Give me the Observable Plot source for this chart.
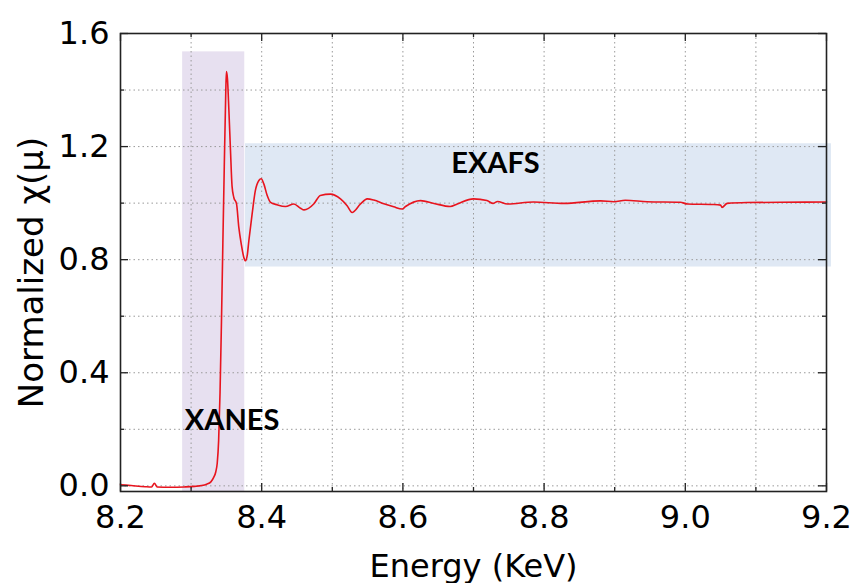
<!DOCTYPE html>
<html>
<head>
<meta charset="utf-8">
<script src="https://cdn.jsdelivr.net/npm/d3@7"></script>
<script src="https://cdn.jsdelivr.net/npm/@observablehq/plot@0.6"></script>
<style>
  html, body { margin: 0; padding: 0; background: #fff; }
</style>
</head>
<body>
<div id="chart"></div>
<script>
// Normalized absorption spectrum around the edge (energy in keV)
const energy = [
  8.200, 8.215, 8.235, 8.244, 8.248, 8.252, 8.270, 8.290, 8.305, 8.315,
  8.322, 8.328, 8.332, 8.335, 8.337, 8.339, 8.341, 8.343, 8.345, 8.347,
  8.349, 8.350, 8.3515, 8.3535, 8.3558, 8.358, 8.3605, 8.3643, 8.3676, 8.371,
  8.3747, 8.377, 8.3795, 8.3818, 8.3865, 8.391, 8.396, 8.3993, 8.403, 8.4078,
  8.4125, 8.422, 8.4337, 8.4455, 8.455, 8.460, 8.474, 8.483, 8.4975, 8.5116,
  8.521, 8.528, 8.540, 8.5494, 8.5588, 8.573, 8.587, 8.599, 8.6037, 8.625,
  8.644, 8.667, 8.677, 8.700, 8.719, 8.728, 8.734, 8.748, 8.785, 8.828,
  8.880, 8.899, 8.915, 8.946, 8.993, 9.003, 9.040, 9.050, 9.052, 9.0593,
  9.0875, 9.135, 9.200
];
const chi = [
  0.004, 0.001, -0.003, -0.004, 0.009, -0.004, -0.005, -0.004, -0.002, 0.001,
  0.006, 0.014, 0.030, 0.050, 0.080, 0.160, 0.330, 0.580, 0.860, 1.130,
  1.380, 1.465, 1.440, 1.330, 1.186, 1.060, 1.020, 0.998, 0.914, 0.856,
  0.808, 0.796, 0.815, 0.867, 0.963, 1.044, 1.080, 1.086, 1.068, 1.027,
  1.003, 0.994, 0.988, 0.997, 0.982, 0.976, 0.998, 1.027, 1.032, 1.015,
  0.991, 0.967, 0.997, 1.015, 1.011, 0.998, 0.987, 0.979, 0.988, 1.009,
  0.999, 0.988, 0.997, 1.015, 1.009, 0.999, 1.006, 0.997, 1.004, 0.999,
  1.008, 1.005, 1.010, 1.005, 1.003, 0.997, 0.995, 0.993, 0.985, 0.999,
  1.002, 1.003, 1.004
];

// Shaded spectral regions
const xanesEnergy = [8.288, 8.376];
const xanesChiTop = 1.535;
const exafsEnergy = [8.377, 9.207];
const exafsChi = [0.774, 1.21];

// Region annotations
const regionNames = ["XANES", "EXAFS"];
const regionNameEnergy = [8.358, 8.731];
const regionNameChi = [0.232, 1.141];

// Axes
const xDomain = [8.2, 9.2];
const yDomain = [-0.02, 1.6];
const xMajor = [8.2, 8.4, 8.6, 8.8, 9.0, 9.2];
const xMinor = [8.3, 8.5, 8.7, 8.9, 9.1];
const yMajor = [0.0, 0.4, 0.8, 1.2, 1.6];
const yMinor = [0.2, 0.6, 1.0, 1.4];
const xGrid = [8.3, 8.4, 8.5, 8.6, 8.7, 8.8, 8.9, 9.0, 9.1];
const yGrid = [0.0, 0.2, 0.4, 0.6, 0.8, 1.0, 1.2, 1.4];
const xTitle = "Energy (KeV)";
const yTitle = "Normalized χ(μ)";

const W = 852, H = 583;
const mL = 120, mR = 26, mT = 33, mB = 92;
const innerW = W - mL - mR, innerH = H - mT - mB;
const majorLen = 8, minorLen = 4;
const ink = "#222";

const spectrum = energy.map((e, i) => ({e, v: chi[i]}));
const bands = [
  {x1: xanesEnergy[0], x2: xanesEnergy[1], y1: yDomain[0], y2: xanesChiTop, fill: "#e7e0f0"},
  {x1: exafsEnergy[0], x2: exafsEnergy[1], y1: exafsChi[0], y2: exafsChi[1], fill: "#dfe8f4"}
];

const chart = Plot.plot({
  width: W,
  height: H,
  marginLeft: mL,
  marginRight: mR,
  marginTop: mT,
  marginBottom: mB,
  style: {fontFamily: "DejaVu Sans", fontSize: "32px", color: "#000", background: "#fff"},
  x: {domain: xDomain},
  y: {domain: yDomain},
  marks: [
    Plot.rect(bands, {x1: "x1", x2: "x2", y1: "y1", y2: "y2", fill: d => d.fill}),
    Plot.gridX(xGrid, {stroke: "#9a9a9a", strokeOpacity: 1, strokeWidth: 1, strokeDasharray: "1.5,3"}),
    Plot.gridY(yGrid, {stroke: "#9a9a9a", strokeOpacity: 1, strokeWidth: 1, strokeDasharray: "1.5,3"}),
    Plot.line(spectrum, {x: "e", y: "v", stroke: "#e8141e", strokeWidth: 1.6, curve: "monotone-x"}),
    // inward ticks on all four sides
    Plot.tickX(xMajor, {x: d => d, insetTop: innerH - majorLen, stroke: ink, strokeWidth: 1.3}),
    Plot.tickX(xMajor, {x: d => d, insetBottom: innerH - majorLen, stroke: ink, strokeWidth: 1.3}),
    Plot.tickX(xMinor, {x: d => d, insetTop: innerH - minorLen, stroke: ink, strokeWidth: 1.3}),
    Plot.tickX(xMinor, {x: d => d, insetBottom: innerH - minorLen, stroke: ink, strokeWidth: 1.3}),
    Plot.tickY(yMajor, {y: d => d, insetRight: innerW - majorLen, stroke: ink, strokeWidth: 1.3}),
    Plot.tickY(yMajor, {y: d => d, insetLeft: innerW - majorLen, stroke: ink, strokeWidth: 1.3}),
    Plot.tickY(yMinor, {y: d => d, insetRight: innerW - minorLen, stroke: ink, strokeWidth: 1.3}),
    Plot.tickY(yMinor, {y: d => d, insetLeft: innerW - minorLen, stroke: ink, strokeWidth: 1.3}),
    Plot.frame({stroke: ink, strokeWidth: 1.6}),
    Plot.axisX(xMajor, {
      tickSize: 0, tickPadding: 14, tickFormat: d => d.toFixed(1),
      label: xTitle, labelAnchor: "center", labelOffset: 85, labelArrow: "none"
    }),
    Plot.axisY(yMajor, {
      tickSize: 0, tickPadding: 11, tickFormat: d => d.toFixed(1),
      label: null
    }),
    // vertical axis title, slightly larger than the tick labels
    Plot.text([yTitle], {
      frameAnchor: "left",
      text: d => d,
      rotate: -90,
      dx: -88,
      dy: 10,
      fontSize: 34,
      textAnchor: "middle",
      lineAnchor: "middle",
      fill: "#000"
    }),
    Plot.text(regionNames, {
      x: (d, i) => regionNameEnergy[i],
      y: (d, i) => regionNameChi[i],
      text: d => d,
      fontFamily: "Lato",
      fontWeight: "bold",
      fontSize: 29,
      fill: "#000"
    })
  ]
});

document.getElementById("chart").appendChild(chart);
</script>
</body>
</html>
